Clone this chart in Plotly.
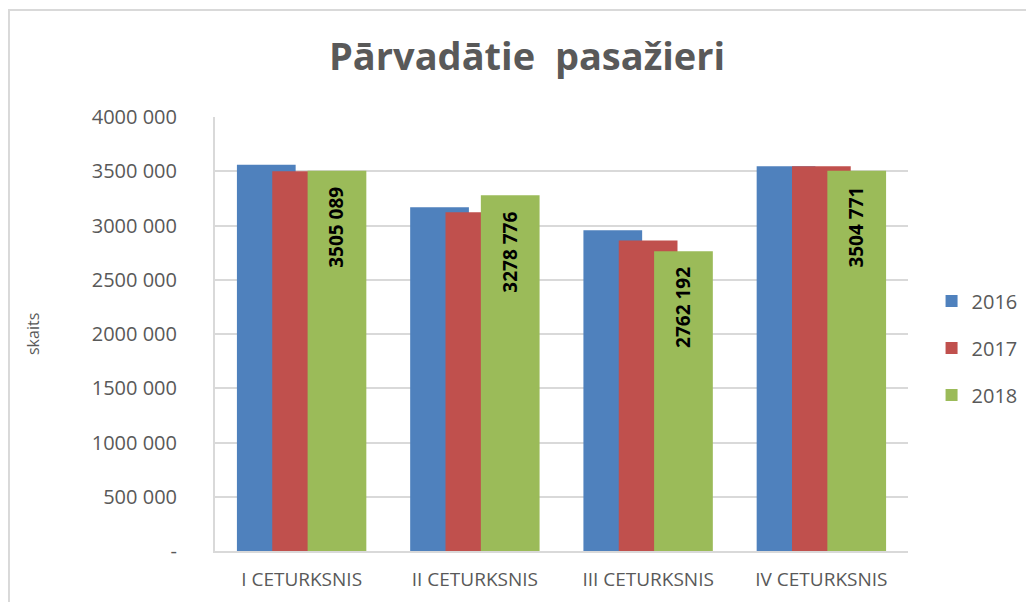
import plotly.graph_objects as go

categories = ["I CETURKSNIS", "II CETURKSNIS", "III CETURKSNIS", "IV CETURKSNIS"]
years = ["2016", "2017", "2018"]
v2016 = [3559000, 3168000, 2956000, 3546000]
v2017 = [3500000, 3122000, 2861000, 3546000]
v2018 = [3505089, 3278776, 2762192, 3504771]
labels2018 = ["3505 089", "3278 776", "2762 192", "3504 771"]
colors = ["#4F81BD", "#C0504D", "#9BBB59"]
tick_vals = [0, 500000, 1000000, 1500000, 2000000, 2500000, 3000000, 3500000, 4000000]
tick_text = ["-", "500 000", "1000 000", "1500 000", "2000 000", "2500 000",
             "3000 000", "3500 000", "4000 000"]

width = 0.339
offsets = [-0.3735, -0.1695, 0.0345]
series = [v2016, v2017, v2018]

fig = go.Figure()
for i, (yr, vals) in enumerate(zip(years, series)):
    fig.add_trace(go.Bar(
        x=categories, y=vals, name=yr, width=width, offset=offsets[i],
        marker=dict(color=colors[i], line=dict(width=0)),
        legendgroup=yr))

annotations = []
for cat, val, lab in zip(categories, v2018, labels2018):
    annotations.append(dict(
        x=cat, y=val, xref="x", yref="y", text=lab, showarrow=False,
        textangle=-90, xanchor="center", yanchor="top", xshift=35, yshift=-14,
        font=dict(family="Open Sans", size=19, color="black", weight="bold")))
annotations.append(dict(
    x=-0.2626, y=0.5, xref="paper", yref="paper", text="skaits", showarrow=False,
    textangle=-90, xanchor="center", yanchor="middle",
    font=dict(family="Open Sans", size=16, color="#595959")))

fig.update_layout(
    width=1034, height=602,
    barmode="overlay",
    paper_bgcolor="white", plot_bgcolor="white",
    margin=dict(l=207, r=134, t=109, b=59, autoexpand=False),
    title=dict(text="Pārvadātie  pasažieri", x=0.502, xanchor="center", y=0.9186, yanchor="middle",
               font=dict(family="Open Sans", size=38, color="#595959", weight="bold")),
    legend=dict(x=1.034, y=0.468, xanchor="left", yanchor="middle",
                font=dict(family="Open Sans", size=20, color="#595959"),
                tracegroupgap=18, bgcolor="rgba(0,0,0,0)"),
    showlegend=True,
    font=dict(family="Open Sans", color="#595959"),
    annotations=annotations,
    shapes=[dict(type="rect", xref="paper", yref="paper",
                 x0=-0.2973, y0=-0.5, x1=1.5, y1=1.2465,
                 line=dict(color="#d9d9d9", width=2), layer="below")],
)
fig.update_xaxes(showline=True, linecolor="#d9d9d9", linewidth=2, ticks="",
                 tickfont=dict(family="Open Sans", size=19, color="#595959"),
                 ticklabelstandoff=10, automargin=False,
                 range=[-0.5, 3.5])
fig.update_yaxes(range=[0, 4000000], tickvals=tick_vals, ticktext=tick_text,
                 showgrid=True, gridcolor="#d9d9d9", gridwidth=1.5,
                 showline=True, linecolor="#d9d9d9", linewidth=2,
                 tickfont=dict(family="Open Sans", size=20, color="#595959"),
                 ticks="", ticklabelstandoff=32, automargin=False,
                 zeroline=False)
fig.write_html("out.html")
